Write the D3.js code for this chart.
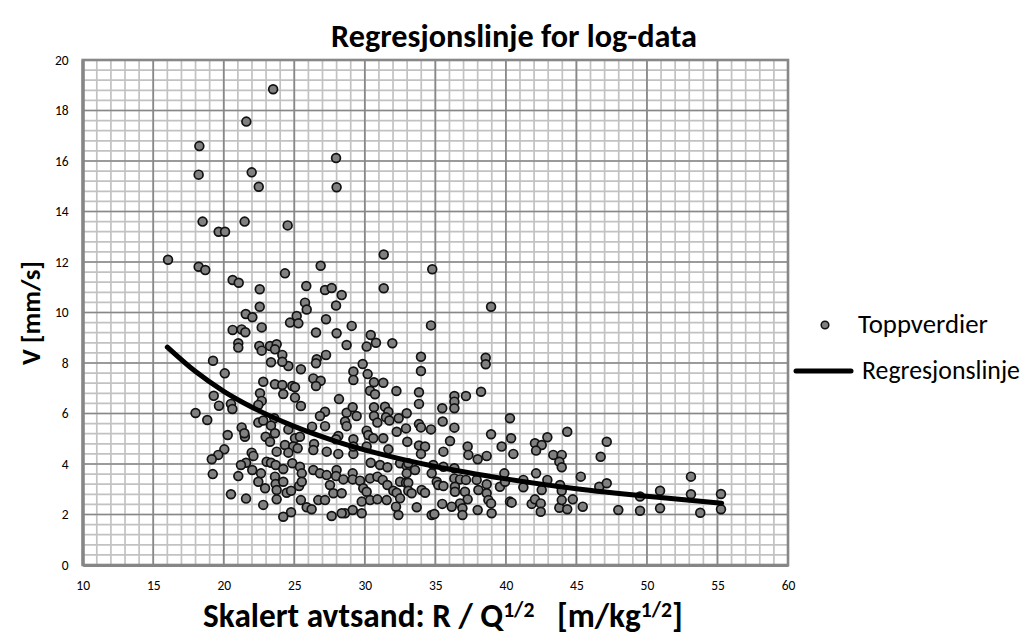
<!DOCTYPE html>
<html>
<head>
<meta charset="utf-8">
<script src="https://cdn.jsdelivr.net/npm/d3@7"></script>
<style>
  body { margin: 0; background: #ffffff; }
  svg { display: block; }
  text { font-family: Carlito, Lato, "Liberation Sans", sans-serif; fill: #000; }
</style>
</head>
<body>
<svg id="chart" width="1027" height="637"></svg>
<script>
// Axis ticks
const xTicks = [10, 15, 20, 25, 30, 35, 40, 45, 50, 55, 60];
const yTicks = [0, 2, 4, 6, 8, 10, 12, 14, 16, 18, 20];

// Measured peak values: scaled distance (x) and peak velocity V (y)
const peakX = [
  23.5, 21.6, 18.27, 18.22, 21.98, 22.48, 18.5, 19.64, 20.09, 21.48, 24.53, 27.96, 28.0, 31.34, 16.05, 18.22,
  18.69, 26.87, 34.78, 20.63, 21.06, 24.34, 22.55, 25.85, 27.18, 27.65, 28.36, 31.34, 22.55, 25.76, 27.96, 38.95,
  21.56, 22.03, 22.69, 20.63, 21.27, 21.53, 24.7, 25.17, 25.29, 21.03, 21.03, 22.52, 22.69, 23.28, 23.75, 23.63,
  24.15, 24.58, 24.15, 23.35, 19.24, 20.07, 25.47, 22.8, 23.63, 24.15, 24.86, 25.05, 24.22, 22.57, 22.69, 22.45,
  25.05, 25.47, 19.29, 19.66, 20.51, 20.61, 18.0, 18.83, 22.45, 22.8, 21.27, 21.5, 21.46, 20.28, 23.58, 23.35,
  23.63, 22.97, 23.28, 24.58, 25.05, 25.4, 24.34, 24.93, 25.24, 23.75, 24.58, 20.04, 19.61, 19.15, 21.98, 22.1,
  21.58, 21.22, 23.04, 23.35, 23.68, 24.22, 24.86, 25.4, 25.53, 19.22, 21.03, 22.02, 22.64, 22.45, 23.63, 23.68,
  24.22, 22.93, 23.75, 24.46, 24.77, 20.51, 21.58, 23.75, 22.8, 25.34, 25.53, 24.77, 24.22, 25.47,
  25.88, 27.25, 29.07, 26.54, 28.0, 28.71, 30.42, 30.79, 30.13, 31.95, 26.59, 26.54, 27.25, 26.35, 26.87, 26.54,
  29.19, 29.19, 29.85, 30.2, 30.65, 31.31, 30.37, 30.72, 32.24, 28.17, 27.18, 26.82, 28.71, 29.14, 29.42, 28.6,
  30.65, 30.65, 31.43, 31.67, 31.5, 30.89, 31.74, 32.4, 32.97, 27.18, 26.26, 28.71, 28.12, 29.19, 27.96, 27.3,
  26.4, 26.35, 30.13, 30.25, 30.6, 31.31, 31.67, 32.26, 32.92, 33.01, 28.12, 29.19, 29.19, 30.13, 30.42, 31.08,
  31.6, 32.5, 32.97, 26.35, 26.82, 27.3, 28.0, 27.96, 28.48, 29.14, 29.14, 29.66, 29.89, 30.37, 30.89, 31.27,
  31.6, 32.02, 32.5, 32.26, 32.5, 32.92, 32.97, 25.88, 26.23, 26.7, 27.18, 27.53, 27.77, 28.36, 28.6, 29.14,
  29.78, 29.78, 30.13, 30.37, 30.89, 31.55, 32.21, 32.38, 27.65, 28.36,
  34.69, 33.98, 33.98, 38.57, 38.57, 33.84, 33.84, 36.35, 36.35, 36.35, 37.17, 38.24, 35.49, 35.52, 33.84, 33.98,
  34.69, 36.35, 40.29, 38.95, 36.04, 33.84, 34.27, 33.98, 35.57, 37.29, 37.34, 38.0, 38.64, 39.7, 40.37, 40.53,
  33.08, 33.56, 34.85, 34.74, 35.57, 36.35, 36.35, 36.75, 37.17, 36.39, 33.08, 33.08, 33.32, 34.03, 34.27, 35.1,
  35.21, 35.57, 36.39, 37.1, 37.29, 36.75, 36.92, 36.92, 36.16, 35.49, 34.74, 34.93, 33.68, 37.93, 38.05, 38.64,
  38.64, 38.76, 38.95, 38.0, 38.99, 39.58, 39.94, 39.89, 40.29,
  42.94, 44.35, 42.06, 42.54, 42.14, 43.36, 43.96, 43.79, 43.96, 47.15, 46.72, 42.14, 41.24, 41.24, 42.94, 42.54,
  43.84, 43.96, 45.31, 46.62, 47.15, 40.41, 41.83, 42.06, 42.47, 42.47, 43.79, 43.96, 44.35, 44.74, 45.45, 47.97,
  49.51, 49.51, 50.93, 50.93, 53.12, 53.12, 53.78, 55.25, 55.25
];
const peakV = [
  18.84, 17.56, 16.59, 15.46, 15.55, 14.98, 13.6, 13.2, 13.2, 13.6, 13.45, 16.12, 14.96, 12.3, 12.09, 11.81,
  11.68, 11.85, 11.71, 11.29, 11.18, 11.55, 10.92, 11.05, 10.89, 10.97, 10.69, 10.96, 10.23, 10.39, 10.28, 10.23,
  9.94, 9.81, 9.41, 9.31, 9.33, 9.22, 9.6, 9.86, 9.57, 8.78, 8.61, 8.67, 8.49, 8.67, 8.74, 8.54,
  8.32, 7.88, 8.05, 8.03, 8.09, 7.59, 7.75, 7.26, 7.16, 7.13, 7.09, 7.04, 6.77, 6.8, 6.5, 6.34,
  6.63, 6.3, 6.7, 6.31, 6.38, 6.18, 6.02, 5.74, 5.64, 5.72, 5.45, 5.08, 5.22, 5.15, 5.81, 5.52,
  5.22, 5.08, 4.88, 5.37, 5.02, 5.08, 4.75, 4.69, 4.62, 4.49, 4.45, 4.58, 4.36, 4.19, 4.45, 4.32,
  4.05, 3.96, 4.09, 4.05, 3.96, 3.8, 4.03, 3.89, 3.63, 3.6, 3.52, 3.76, 3.63, 3.3, 3.5, 3.21,
  3.3, 3.04, 2.97, 2.86, 2.94, 2.8, 2.63, 2.6, 2.38, 3.13, 3.3, 2.09, 1.91, 2.57,
  10.12, 9.73, 9.47, 9.21, 9.18, 8.71, 9.11, 8.8, 8.65, 8.78, 8.15, 7.99, 8.32, 7.39, 7.3, 7.09,
  7.66, 7.33, 7.96, 7.56, 7.24, 7.22, 6.9, 6.76, 6.89, 6.57, 6.07, 5.9, 6.03, 6.25, 5.9, 5.68,
  6.25, 5.9, 6.27, 6.07, 5.85, 5.64, 5.72, 5.81, 6.01, 5.5, 5.48, 5.5, 5.11, 4.98, 4.98, 4.49,
  4.79, 4.55, 5.32, 5.15, 5.02, 5.02, 4.58, 5.28, 5.41, 4.88, 4.4, 4.4, 4.69, 4.69, 4.05, 3.96,
  3.87, 4.03, 3.92, 3.76, 3.63, 3.56, 3.76, 3.52, 3.39, 3.63, 3.39, 3.34, 3.04, 3.43, 3.5, 3.37,
  3.17, 2.94, 3.3, 2.86, 2.64, 3.26, 3.63, 2.29, 2.21, 2.57, 2.57, 3.17, 2.84, 2.84, 2.05, 2.18,
  2.05, 2.51, 2.9, 2.57, 2.6, 2.57, 2.31, 1.98, 1.94, 2.05,
  9.49, 8.25, 7.68, 8.21, 7.95, 6.84, 6.38, 6.69, 6.47, 6.21, 6.69, 6.86, 6.21, 5.68, 5.58, 5.45,
  5.37, 5.44, 5.81, 5.18, 4.91, 4.73, 4.69, 4.4, 4.49, 4.69, 4.36, 4.19, 4.32, 4.69, 5.02, 4.4,
  4.03, 3.76, 3.96, 3.63, 3.89, 3.83, 3.43, 3.39, 3.37, 3.1, 3.26, 2.94, 2.84, 2.97, 2.86, 3.3,
  3.17, 3.13, 2.9, 2.9, 2.6, 2.44, 2.25, 1.98, 2.31, 2.42, 1.98, 2.02, 2.29, 3.37, 2.97, 3.2,
  2.84, 2.57, 2.44, 2.18, 2.05, 3.1, 3.3, 3.63, 2.51,
  5.06, 5.28, 4.82, 4.75, 4.53, 4.36, 4.36, 4.09, 3.87, 4.88, 4.29, 3.63, 3.37, 3.08, 3.37, 2.97,
  3.17, 2.94, 3.5, 3.1, 3.24, 2.47, 2.42, 2.6, 2.44, 2.11, 2.27, 2.57, 2.21, 2.6, 2.31, 2.18,
  2.71, 2.15, 2.94, 2.25, 3.5, 2.8, 2.07, 2.81, 2.21
];

// Fitted regression of the log-transformed data, evaluated along x
const regX = [16, 18, 20, 22, 25, 28, 31, 35, 40, 45, 50, 55.3];
const regV = [8.63, 7.66, 6.88, 6.25, 5.49, 4.89, 4.41, 3.90, 3.41, 3.02, 2.72, 2.45];

const seriesNames = ["Toppverdier", "Regresjonslinje"];

const svg = d3.select("#chart");
svg.append("rect").attr("width", 1027).attr("height", 637).attr("fill", "#ffffff");

const x = d3.scaleLinear().domain([10, 60]).range([82.7, 788]);
const y = d3.scaleLinear().domain([0, 20]).range([565, 60]);

// Gridlines: minor first, then major
const grid = svg.append("g");
const minorX = d3.range(10, 60.001, 1);
const minorY = d3.range(0, 20.001, 0.4);
grid.selectAll(".mx").data(minorX).join("line")
  .attr("x1", d => x(d)).attr("x2", d => x(d))
  .attr("y1", y(0)).attr("y2", y(20))
  .attr("stroke", "#c2c2c2").attr("stroke-width", 1.7);
grid.selectAll(".my").data(minorY).join("line")
  .attr("y1", d => y(d)).attr("y2", d => y(d))
  .attr("x1", x(10)).attr("x2", x(60))
  .attr("stroke", "#c2c2c2").attr("stroke-width", 1.7);
grid.selectAll(".gx").data(xTicks).join("line")
  .attr("x1", d => x(d)).attr("x2", d => x(d))
  .attr("y1", y(0)).attr("y2", y(20))
  .attr("stroke", "#888888").attr("stroke-width", 1.7);
grid.selectAll(".gy").data(yTicks).join("line")
  .attr("y1", d => y(d)).attr("y2", d => y(d))
  .attr("x1", x(10)).attr("x2", x(60))
  .attr("stroke", "#888888").attr("stroke-width", 1.7);

// Plot frame
svg.append("rect")
  .attr("x", x(10)).attr("y", y(20))
  .attr("width", x(60) - x(10)).attr("height", y(0) - y(20))
  .attr("fill", "none").attr("stroke", "#888888").attr("stroke-width", 2.6);

// Axes
const xAxis = svg.append("g").attr("transform", `translate(0,${y(0)})`)
  .call(d3.axisBottom(x).tickValues(xTicks).tickSize(0).tickSizeOuter(0).tickPadding(15));
const yAxis = svg.append("g").attr("transform", `translate(${x(10)},0)`)
  .call(d3.axisLeft(y).tickValues(yTicks).tickSize(0).tickSizeOuter(0).tickPadding(14));
[xAxis, yAxis].forEach(a => {
  a.select(".domain").attr("stroke", "#868686").attr("stroke-width", 3.2);
  a.selectAll("text").style("font-size", "13.5px").style("font-family", "Carlito, Lato, sans-serif").attr("fill", "#000");
});

// Scatter points
const pts = peakX.map((d, i) => ({ x: d, v: peakV[i] }));
svg.append("g").selectAll("circle").data(pts).join("circle")
  .attr("cx", d => x(d.x)).attr("cy", d => y(d.v)).attr("r", 4.4)
  .attr("fill", "#808080").attr("stroke", "#111111").attr("stroke-width", 1.7);

// Regression line
const regPts = regX.map((d, i) => ({ x: d, v: regV[i] }));
svg.append("path").datum(regPts)
  .attr("d", d3.line().x(d => x(d.x)).y(d => y(d.v)).curve(d3.curveMonotoneX))
  .attr("fill", "none").attr("stroke", "#000").attr("stroke-width", 5)
  .attr("stroke-linecap", "round").attr("stroke-linejoin", "round");

// Helper: size a text element so that it spans a given width
function fitWidth(sel, w) {
  const fs = parseFloat(sel.style("font-size"));
  const len = sel.node().getComputedTextLength();
  sel.style("font-size", (fs * w / len) + "px");
}

// Title
const title = svg.append("text").attr("x", 514).attr("y", 47).attr("text-anchor", "middle")
  .style("font-weight", "bold").style("font-size", "24px").text("Regresjonslinje for log-data");
fitWidth(title, 366);

// X-axis title with superscripts
const xt = svg.append("text").attr("x", 443).attr("y", 627).attr("text-anchor", "middle")
  .style("font-weight", "bold").style("font-size", "26px");
xt.append("tspan").text("Skalert avtsand: R / Q");
xt.append("tspan").attr("dy", -10).style("font-size", "0.65em").text("1/2");
xt.append("tspan").attr("dy", 10).text("\u00a0\u00a0 [m/kg");
xt.append("tspan").attr("dy", -10).style("font-size", "0.65em").text("1/2");
xt.append("tspan").attr("dy", 10).text("]");
{
  const fs = parseFloat(xt.style("font-size"));
  const len = xt.node().getBBox().width;
  xt.style("font-size", (fs * 480 / len) + "px");
}

// Y-axis title
const yt = svg.append("text").attr("transform", "translate(40,313) rotate(-90)")
  .attr("text-anchor", "middle").style("font-weight", "bold").style("font-size", "24px").text("V [mm/s]");
fitWidth(yt, 104);

// Legend
const lg = svg.append("g");
lg.append("circle").attr("cx", 825).attr("cy", 325).attr("r", 3.8)
  .attr("fill", "#808080").attr("stroke", "#111").attr("stroke-width", 1.5);
const l1 = lg.append("text").attr("x", 858).attr("y", 333).style("font-size", "20px").text(seriesNames[0]);
fitWidth(l1, 130);
lg.append("line").attr("x1", 796).attr("x2", 851).attr("y1", 371).attr("y2", 371)
  .attr("stroke", "#000").attr("stroke-width", 5).attr("stroke-linecap", "round");
const l2 = lg.append("text").attr("x", 862).attr("y", 379).style("font-size", "20px").text(seriesNames[1]);
fitWidth(l2, 158);
</script>
</body>
</html>
